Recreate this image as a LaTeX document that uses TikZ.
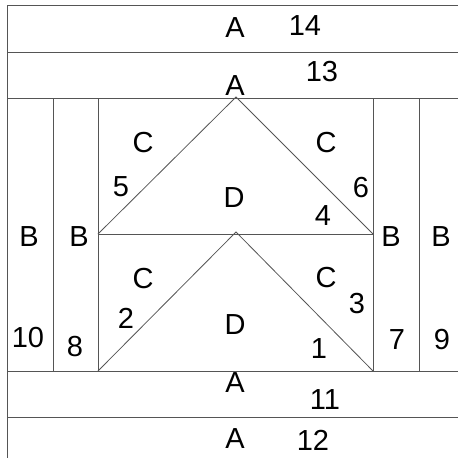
\documentclass[tikz,border=0pt]{standalone}
\usepackage{fontspec}
\setmainfont{Liberation Sans}
\definecolor{seamcolor}{RGB}{85,85,85}
\definecolor{labelcolor}{RGB}{0,0,0}

\begin{document}
\begin{tikzpicture}[x=1pt,y=-1pt,
    seam/.style={draw=seamcolor,line width=0.8pt},
    piece/.style={font=\fontsize{29}{30}\selectfont,inner sep=0pt,text=labelcolor}]
        \useasboundingbox (0,0) rectangle (458,458);
        % Outer border and horizontal strips
        \draw[seam] (7,458) -- (7,5) -- (458,5);
        \foreach \y in {52,98,371,417}
            \draw[seam] (7,\y) -- (458,\y);
        % Side columns
        \foreach \x in {53,98,373,419}
            \draw[seam] (\x,98) -- (\x,371);
        \draw[seam] (98,234) -- (373,234);
        % Flying geese
        \draw[seam] (98,234) -- (236,97) -- (373,234);
        \draw[seam] (98,371) -- (236,232) -- (373,371);
        % Piece letters
        \node[piece] (top) at (235,28) {A};
        \node[piece] (second) at (235,86) {A};
        \node[piece] (third) at (235,383) {A};
        \node[piece] (bottom) at (235,439) {A};
        \foreach \n/\x/\y in {outerleft/29/237,innerleft/79/237,innerright/391/237,outerright/441/237}
            \node[piece] (\n) at (\x,\y) {B};
        \foreach \n/\x/\y in {upleft/143/143,upright/326/143,lowleft/143/279,lowright/326/278}
            \node[piece] (\n) at (\x,\y) {C};
        \node[piece] (upgoose) at (234,198) {D};
        \node[piece] (lowgoose) at (235,325) {D};
        % Sewing order
        \foreach \n/\x/\y in {1/319/349,2/126/318,3/357/304,4/323/216,5/121/187,6/361/188,
                              7/397/340,8/75/347,9/442/340,10/28/338,11/325/400,12/313/440,
                              13/322/72,14/305/26}
            \node[piece] (step\n) at (\x,\y) {\n};
    \end{tikzpicture}
\end{document}
